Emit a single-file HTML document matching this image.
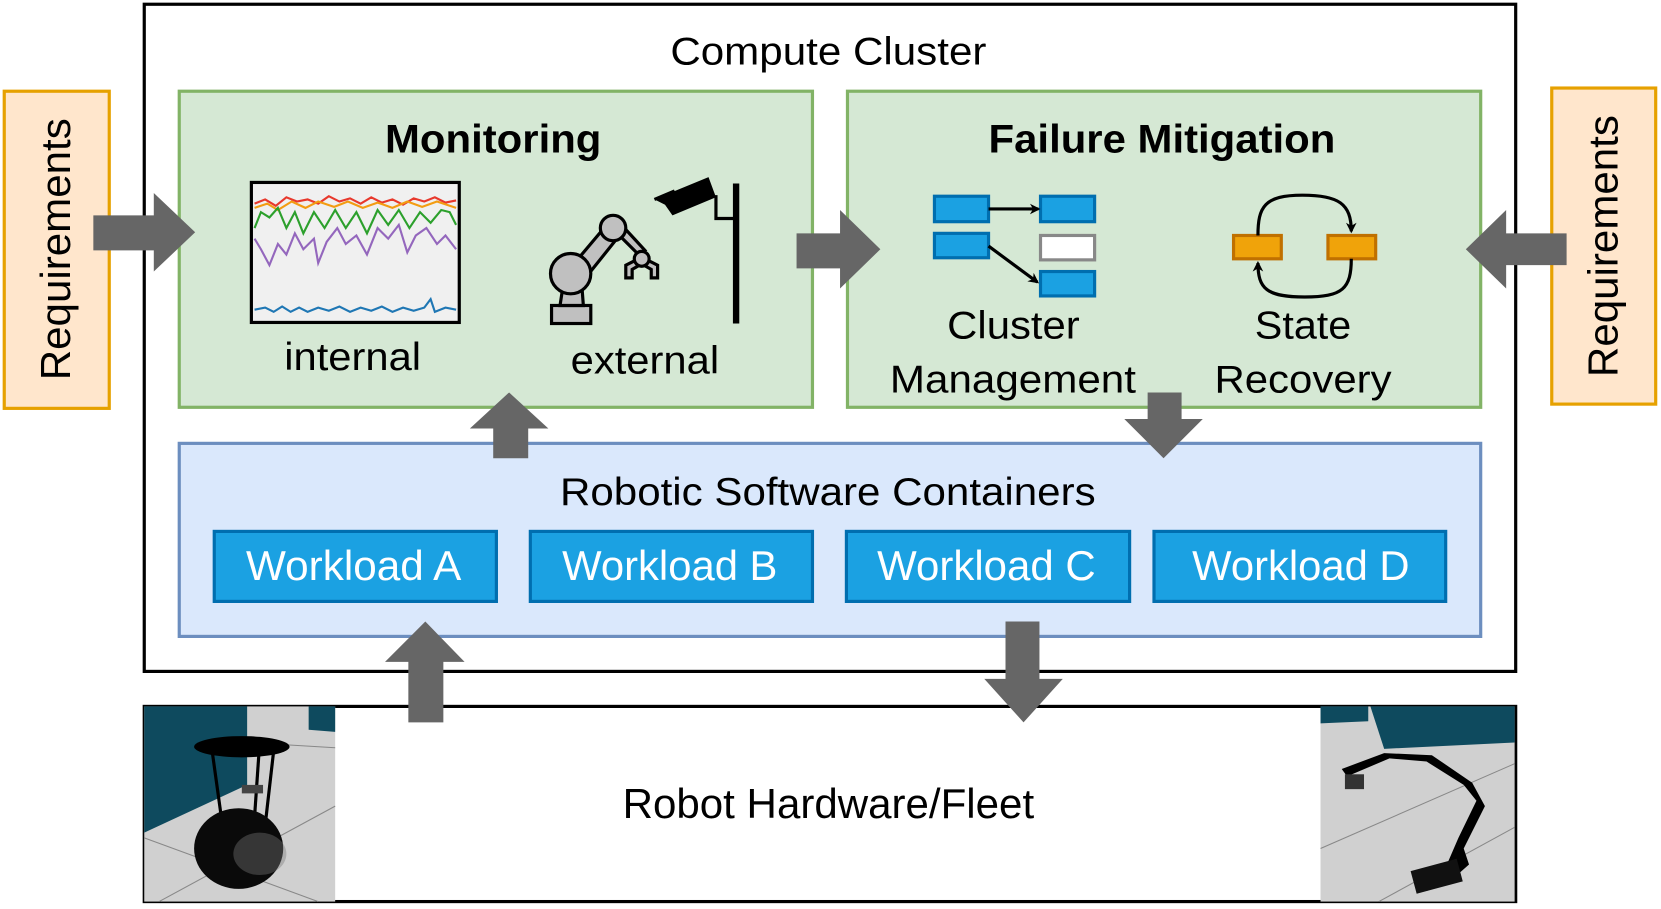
<!DOCTYPE html>
<html><head><meta charset="utf-8"><style>
html,body{margin:0;padding:0;background:#fff;}
svg{display:block;font-family:"Liberation Sans",Arial,sans-serif;}
</style></head><body>
<svg width="1661" height="909" viewBox="0 0 1566 857" xmlns="http://www.w3.org/2000/svg">
<defs>
<marker id="ah" markerWidth="10" markerHeight="10" refX="8" refY="5" orient="auto" markerUnits="userSpaceOnUse"><path d="M0,0 L10,5 L0,10 L3,5 z" fill="#000"/></marker>
</defs>
<rect x="136" y="4" width="1293" height="629" fill="#fff" stroke="#000" stroke-width="3"/>
<text x="632" y="61" font-size="37" textLength="298" lengthAdjust="spacingAndGlyphs">Compute Cluster</text>
<rect x="4" y="86" width="99" height="299" fill="#ffe6cc" stroke="#e6a100" stroke-width="3"/>
<text transform="translate(66,235) rotate(-90)" font-size="39" text-anchor="middle" textLength="247" lengthAdjust="spacingAndGlyphs">Requirements</text>
<rect x="1463" y="83" width="98" height="298" fill="#ffe6cc" stroke="#e6a100" stroke-width="3"/>
<text transform="translate(1525,232) rotate(-90)" font-size="39" text-anchor="middle" textLength="247" lengthAdjust="spacingAndGlyphs">Requirements</text>
<rect x="169" y="86" width="597" height="298" fill="#d5e8d4" stroke="#82b366" stroke-width="3"/>
<text x="363" y="144" font-size="38" font-weight="bold" textLength="204" lengthAdjust="spacingAndGlyphs">Monitoring</text>
<rect x="237" y="172" width="196" height="132" fill="#f0f0f0" stroke="#000" stroke-width="3"/>
<polyline fill="none" stroke="#e8382c" stroke-width="2" points="240,192 250,188 260,194 270,186 280,190 290,188 300,192 310,185 320,190 330,187 340,192 350,186 360,191 370,188 380,193 390,187 400,190 410,186 420,191 430,189"/>
<polyline fill="none" stroke="#f39c12" stroke-width="2" points="240,196 252,192 262,198 275,190 288,196 300,190 315,195 328,190 342,196 356,191 370,196 384,190 398,195 412,190 430,196"/>
<polyline fill="none" stroke="#2ca02c" stroke-width="2" points="240,215 246,200 254,205 262,196 270,215 278,200 286,220 296,200 306,215 316,198 326,215 336,200 346,220 356,198 366,212 376,198 386,215 396,200 406,210 416,198 424,200 430,212"/>
<polyline fill="none" stroke="#9467bd" stroke-width="2" points="240,225 246,235 254,250 262,230 270,240 278,220 286,235 296,225 300,248 308,228 318,215 326,230 336,222 346,240 356,215 366,225 376,212 384,238 392,222 402,215 412,230 420,222 430,235"/>
<polyline fill="none" stroke="#1f77b4" stroke-width="2" points="240,292 250,290 258,294 266,289 274,294 282,290 290,294 300,290 310,293 320,289 330,294 340,290 350,293 360,289 370,294 380,290 390,293 400,290 406,282 410,294 420,290 430,292"/>
<text x="268" y="349" font-size="37" textLength="129" lengthAdjust="spacingAndGlyphs">internal</text>
<text x="538" y="352" font-size="37" textLength="140" lengthAdjust="spacingAndGlyphs">external</text>
<g stroke="#000" stroke-width="3" fill="#c0c0c0">
<rect x="520" y="288" width="37" height="17"/>
<path d="M528,288 L532,262 L548,262 L550,288 z"/>
<path d="M540,250 L572,212 L584,222 L552,262 z"/>
<path d="M580,218 L602,240 L608,236 L586,212 z"/>
<circle cx="538" cy="258" r="19"/>
<circle cx="578" cy="215" r="12"/>
<path d="M590,262 L590,250 L600,245 L610,245 L620,250 L620,262 L614,262 L614,254 L607,250 L603,250 L596,254 L596,262 z"/>
<circle cx="605" cy="244" r="7"/>
</g>
<path d="M617,188 L668,167 L675,186 L634,203 L627,193 z" fill="#000"/>
<path d="M617,188 L636,180" stroke="#000" stroke-width="3"/>
<path d="M675,184 L675,206 L694,206" fill="none" stroke="#000" stroke-width="3"/>
<rect x="691" y="173" width="6" height="132" fill="#000"/>
<rect x="799" y="86" width="597" height="298" fill="#d5e8d4" stroke="#82b366" stroke-width="3"/>
<text x="932" y="144" font-size="38" font-weight="bold" textLength="327" lengthAdjust="spacingAndGlyphs">Failure Mitigation</text>
<g stroke="#006eaf" stroke-width="3" fill="#1ba1e2">
<rect x="881" y="185" width="51" height="24"/>
<rect x="981" y="185" width="51" height="24"/>
<rect x="881" y="220" width="51" height="23"/>
<rect x="981" y="256" width="51" height="23"/>
</g>
<rect x="981" y="222" width="51" height="23" fill="#fff" stroke="#888" stroke-width="3"/>
<line x1="932" y1="197" x2="979" y2="197" stroke="#000" stroke-width="3" marker-end="url(#ah)"/>
<line x1="932" y1="232" x2="978" y2="266" stroke="#000" stroke-width="3" marker-end="url(#ah)"/>
<g stroke="#c07000" stroke-width="3" fill="#f0a30a">
<rect x="1163" y="222" width="45" height="22"/>
<rect x="1252" y="222" width="45" height="22"/>
</g>
<path d="M1186,222 C1186,195 1192,184 1228,184 C1262,184 1274,192 1274,218" fill="none" stroke="#000" stroke-width="3" marker-end="url(#ah)"/>
<path d="M1274,244 C1274,272 1266,280 1230,280 C1194,280 1186,272 1186,248" fill="none" stroke="#000" stroke-width="3" marker-end="url(#ah)"/>
<text x="893" y="319" font-size="37" textLength="125" lengthAdjust="spacingAndGlyphs">Cluster</text>
<text x="839" y="370" font-size="37" textLength="232" lengthAdjust="spacingAndGlyphs">Management</text>
<text x="1183" y="319" font-size="37" textLength="91" lengthAdjust="spacingAndGlyphs">State</text>
<text x="1145" y="370" font-size="37" textLength="167" lengthAdjust="spacingAndGlyphs">Recovery</text>
<rect x="169" y="418" width="1227" height="182" fill="#dae8fc" stroke="#6c8ebf" stroke-width="3"/>
<text x="528" y="476" font-size="37" textLength="505" lengthAdjust="spacingAndGlyphs">Robotic Software Containers</text>
<g stroke="#006eaf" stroke-width="3" fill="#1ba1e2">
<rect x="202" y="501" width="266" height="66"/>
<rect x="500" y="501" width="266" height="66"/>
<rect x="798" y="501" width="267" height="66"/>
<rect x="1088" y="501" width="275" height="66"/>
</g>
<g fill="#fff" font-size="39">
<text x="232" y="547" textLength="203" lengthAdjust="spacingAndGlyphs">Workload A</text>
<text x="530" y="547" textLength="203" lengthAdjust="spacingAndGlyphs">Workload B</text>
<text x="827" y="547" textLength="206" lengthAdjust="spacingAndGlyphs">Workload C</text>
<text x="1124" y="547" textLength="205" lengthAdjust="spacingAndGlyphs">Workload D</text>
</g>
<rect x="136" y="666" width="1293" height="184" fill="#fff" stroke="#000" stroke-width="3"/>
<text x="587" y="771" font-size="39" textLength="388" lengthAdjust="spacingAndGlyphs">Robot Hardware/Fleet</text>
<rect x="136" y="666" width="180" height="184" fill="#d0d0d0"/>
<path d="M136,666 L233,666 L233,740 L136,785 z" fill="#0e4a5e"/>
<path d="M291,666 L316,666 L316,690 L291,688 z" fill="#0e4a5e"/>
<g stroke="#888" stroke-width="1" fill="none"><path d="M150,850 L316,760"/><path d="M136,790 L300,850"/><path d="M233,700 L316,705"/></g>
<ellipse cx="228" cy="704" rx="45" ry="10" fill="#000"/>
<g stroke="#000" stroke-width="3"><line x1="200" y1="708" x2="210" y2="780"/><line x1="258" y1="708" x2="250" y2="778"/><line x1="244" y1="712" x2="240" y2="770"/></g>
<rect x="228" y="740" width="20" height="8" fill="#444"/>
<ellipse cx="225" cy="800" rx="42" ry="38" fill="#0a0a0a"/>
<ellipse cx="245" cy="805" rx="25" ry="20" fill="#777" opacity="0.4"/>
<rect x="1245" y="666" width="183" height="184" fill="#d0d0d0"/>
<path d="M1292,666 L1428,666 L1428,700 L1305,706 z" fill="#0e4a5e"/>
<path d="M1245,666 L1290,666 L1290,680 L1245,682 z" fill="#0e4a5e"/>
<g stroke="#888" stroke-width="1" fill="none"><path d="M1245,800 L1428,720"/><path d="M1300,850 L1428,780"/></g>
<path d="M1270,732 L1310,715 L1345,718 L1380,740 L1392,755 L1375,790 L1362,820 L1340,830 L1345,840 L1368,830 L1385,815 L1380,800 L1400,760 L1388,738 L1350,712 L1305,710 L1265,725 z" fill="#000"/>
<rect x="1332" y="815" width="45" height="22" fill="#111" transform="rotate(-15 1355 826)"/>
<rect x="1268" y="730" width="18" height="14" fill="#333"/>
<g fill="#666">
<path d="M88,203 L145,203 L145,182 L184,219 L145,256 L145,236 L88,236 z"/>
<path d="M1477,220 L1420,220 L1420,198 L1382,235 L1420,272 L1420,250 L1477,250 z"/>
<path d="M751,220 L792,220 L792,198 L830,235 L792,272 L792,253 L751,253 z"/>
<path d="M465,432 L465,404 L443,404 L480,370 L517,404 L498,404 L498,432 z"/>
<path d="M1082,370 L1114,370 L1114,395 L1134,395 L1097,432 L1060,395 L1082,395 z"/>
<path d="M385,681 L385,624 L363,624 L401,586 L438,624 L418,624 L418,681 z"/>
<path d="M948,586 L980,586 L980,640 L1002,640 L965,681 L928,640 L948,640 z"/>
</g>
</svg>
</body></html>
